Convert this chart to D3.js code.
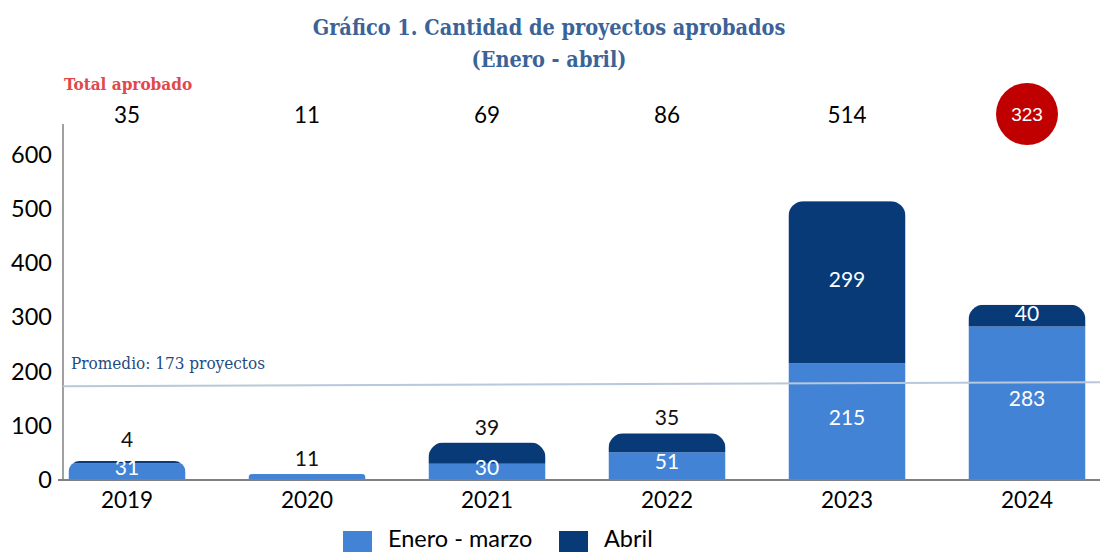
<!DOCTYPE html>
<html>
<head>
<meta charset="utf-8">
<script src="https://cdn.jsdelivr.net/npm/d3@7"></script>
<style>
  body { margin: 0; background: #fff; }
  svg text { font-family: Lato, "Noto Sans", sans-serif; }
  .slab { font-family: "DejaVu Serif Condensed", "DejaVu Serif", serif !important; }
</style>
</head>
<body>
<div id="chart"></div>
<script>
const years = ['2019', '2020', '2021', '2022', '2023', '2024'];
const eneroMarzo = [31, 11, 30, 51, 215, 283];
const abril = [4, 0, 39, 35, 299, 40];
const totals = [35, 11, 69, 86, 514, 323];
const promedio = 173;
const yTicks = [0, 100, 200, 300, 400, 500, 600];

const width = 1100;
const height = 552;
const colEnero = '#4283d6';
const colAbril = '#083a78';

const svg = d3.select('#chart')
	.append('svg')
	.attr('width', width)
	.attr('height', height);

const x = d3.scaleBand()
	.domain(years)
	.range([37, 1117])
	.paddingInner(0.35)
	.paddingOuter(0.175);

const y = d3.scaleLinear()
	.domain([0, 600])
	.range([480, 154.5]);

// title
svg.append('text')
	.attr('class', 'slab')
	.attr('x', 549).attr('y', 35)
	.attr('text-anchor', 'middle')
	.attr('font-size', 21.5).attr('font-weight', 'bold')
	.attr('fill', '#3b6398')
	.text('Gráfico 1. Cantidad de proyectos aprobados');
svg.append('text')
	.attr('class', 'slab')
	.attr('x', 549).attr('y', 67)
	.attr('text-anchor', 'middle')
	.attr('font-size', 21.5).attr('font-weight', 'bold')
	.attr('fill', '#3b6398')
	.text('(Enero - abril)');

svg.append('text')
	.attr('class', 'slab')
	.attr('x', 64).attr('y', 90)
	.attr('font-size', 17).attr('font-weight', 'bold')
	.attr('fill', '#e0494b')
	.text('Total aprobado');

// y axis
const yAxis = svg.append('g')
	.attr('transform', 'translate(63,0)')
	.call(d3.axisLeft(y).tickValues(yTicks).tickSize(0).tickPadding(11));
yAxis.select('.domain').remove();
yAxis.selectAll('text')
	.attr('font-size', 23.5)
	.attr('fill', '#000')
	.style('font-family', 'Lato');
svg.append('line')
	.attr('x1', 63).attr('x2', 63)
	.attr('y1', 124).attr('y2', y(0))
	.attr('stroke', '#808080').attr('stroke-width', 1.5);

// stacks
const stackData = years.map((yr, i) => ({ year: yr, enero: eneroMarzo[i], abril: abril[i], total: eneroMarzo[i] + abril[i] }));
const defs = svg.append('defs');

stackData.forEach((d, i) => {
	const bx = x(d.year);
	const bw = x.bandwidth();
	const top = y(d.total);
	const h = y(0) - top;
	const r = Math.min(15, h * 0.6);
	defs.append('clipPath')
		.attr('id', 'clip' + i)
		.append('rect')
		.attr('x', bx).attr('y', top)
		.attr('width', bw).attr('height', h + 30)
		.attr('rx', r).attr('ry', r);

	const g = svg.append('g').attr('clip-path', `url(#clip${i})`);
	g.append('rect')
		.attr('x', bx).attr('y', y(d.enero))
		.attr('width', bw).attr('height', y(0) - y(d.enero))
		.attr('fill', colEnero);
	if (d.abril > 0) {
		g.append('rect')
			.attr('x', bx).attr('y', y(d.total))
			.attr('width', bw).attr('height', y(d.enero) - y(d.total))
			.attr('fill', colAbril);
	}
});

// x axis
svg.append('line')
	.attr('x1', 58).attr('x2', width)
	.attr('y1', y(0)).attr('y2', y(0))
	.attr('stroke', '#808080').attr('stroke-width', 2);

svg.selectAll('.year')
	.data(years)
	.enter()
	.append('text')
	.attr('class', 'year')
	.attr('x', (d) => x(d) + x.bandwidth() / 2)
	.attr('y', 508)
	.attr('text-anchor', 'middle')
	.attr('font-size', 22.5)
	.attr('fill', '#000')
	.text((d) => d);

// average line
svg.append('line')
	.attr('x1', 63).attr('x2', width)
	.attr('y1', y(promedio)).attr('y2', y(promedio) - 4)
	.attr('stroke', '#b9c8da').attr('stroke-width', 2);
svg.append('text')
	.attr('class', 'slab')
	.attr('x', 71).attr('y', 369)
	.attr('font-size', 17)
	.attr('fill', '#1f4b80')
	.text(`Promedio: ${promedio} proyectos`);

// segment labels
stackData.forEach((d) => {
	const cx = x(d.year) + x.bandwidth() / 2;
	const abrilH = y(d.enero) - y(d.total);
	if (d.enero < 20) {
		svg.append('text')
			.attr('x', cx).attr('y', y(d.total) - 8)
			.attr('text-anchor', 'middle').attr('font-size', 21).attr('fill', '#111')
			.text(d.enero);
	} else {
		svg.append('text')
			.attr('x', cx).attr('y', (y(0) + y(d.enero)) / 2 + 3)
			.attr('text-anchor', 'middle').attr('font-size', 21).attr('fill', '#fff')
			.text(d.enero);
	}
	if (d.abril > 0) {
		if (d.abril < 40) {
			svg.append('text')
				.attr('x', cx).attr('y', y(d.total) - (abrilH < 10 ? 14 : 8))
				.attr('text-anchor', 'middle').attr('font-size', 21).attr('fill', '#111')
				.text(d.abril);
		} else {
			svg.append('text')
				.attr('x', cx).attr('y', (y(d.enero) + y(d.total)) / 2 + 5)
				.attr('text-anchor', 'middle').attr('font-size', 21).attr('fill', '#fff')
				.text(d.abril);
		}
	}
});

// totals row
totals.forEach((t, i) => {
	const cx = x(years[i]) + x.bandwidth() / 2;
	const last = i === totals.length - 1;
	if (last) {
		svg.append('circle')
			.attr('cx', cx).attr('cy', 114).attr('r', 31)
			.attr('fill', '#c00000');
	}
	svg.append('text')
		.attr('x', cx).attr('y', last ? 121 : 123)
		.attr('text-anchor', 'middle')
		.attr('font-size', last ? 19 : 22.5)
		.attr('fill', last ? '#fff' : '#000')
		.style('font-family', last ? 'Liberation Sans, Arial, sans-serif' : null)
		.text(t);
});

// legend
const legend = [
	{ name: 'Enero - marzo', color: colEnero, x: 343 },
	{ name: 'Abril', color: colAbril, x: 559 }
];
legend.forEach((l) => {
	svg.append('rect')
		.attr('x', l.x).attr('y', 531)
		.attr('width', 29).attr('height', 21)
		.attr('fill', l.color);
	svg.append('text')
		.attr('x', l.x + 45).attr('y', 547)
		.attr('font-size', 23.5).attr('fill', '#000')
		.text(l.name);
});
</script>
</body>
</html>
